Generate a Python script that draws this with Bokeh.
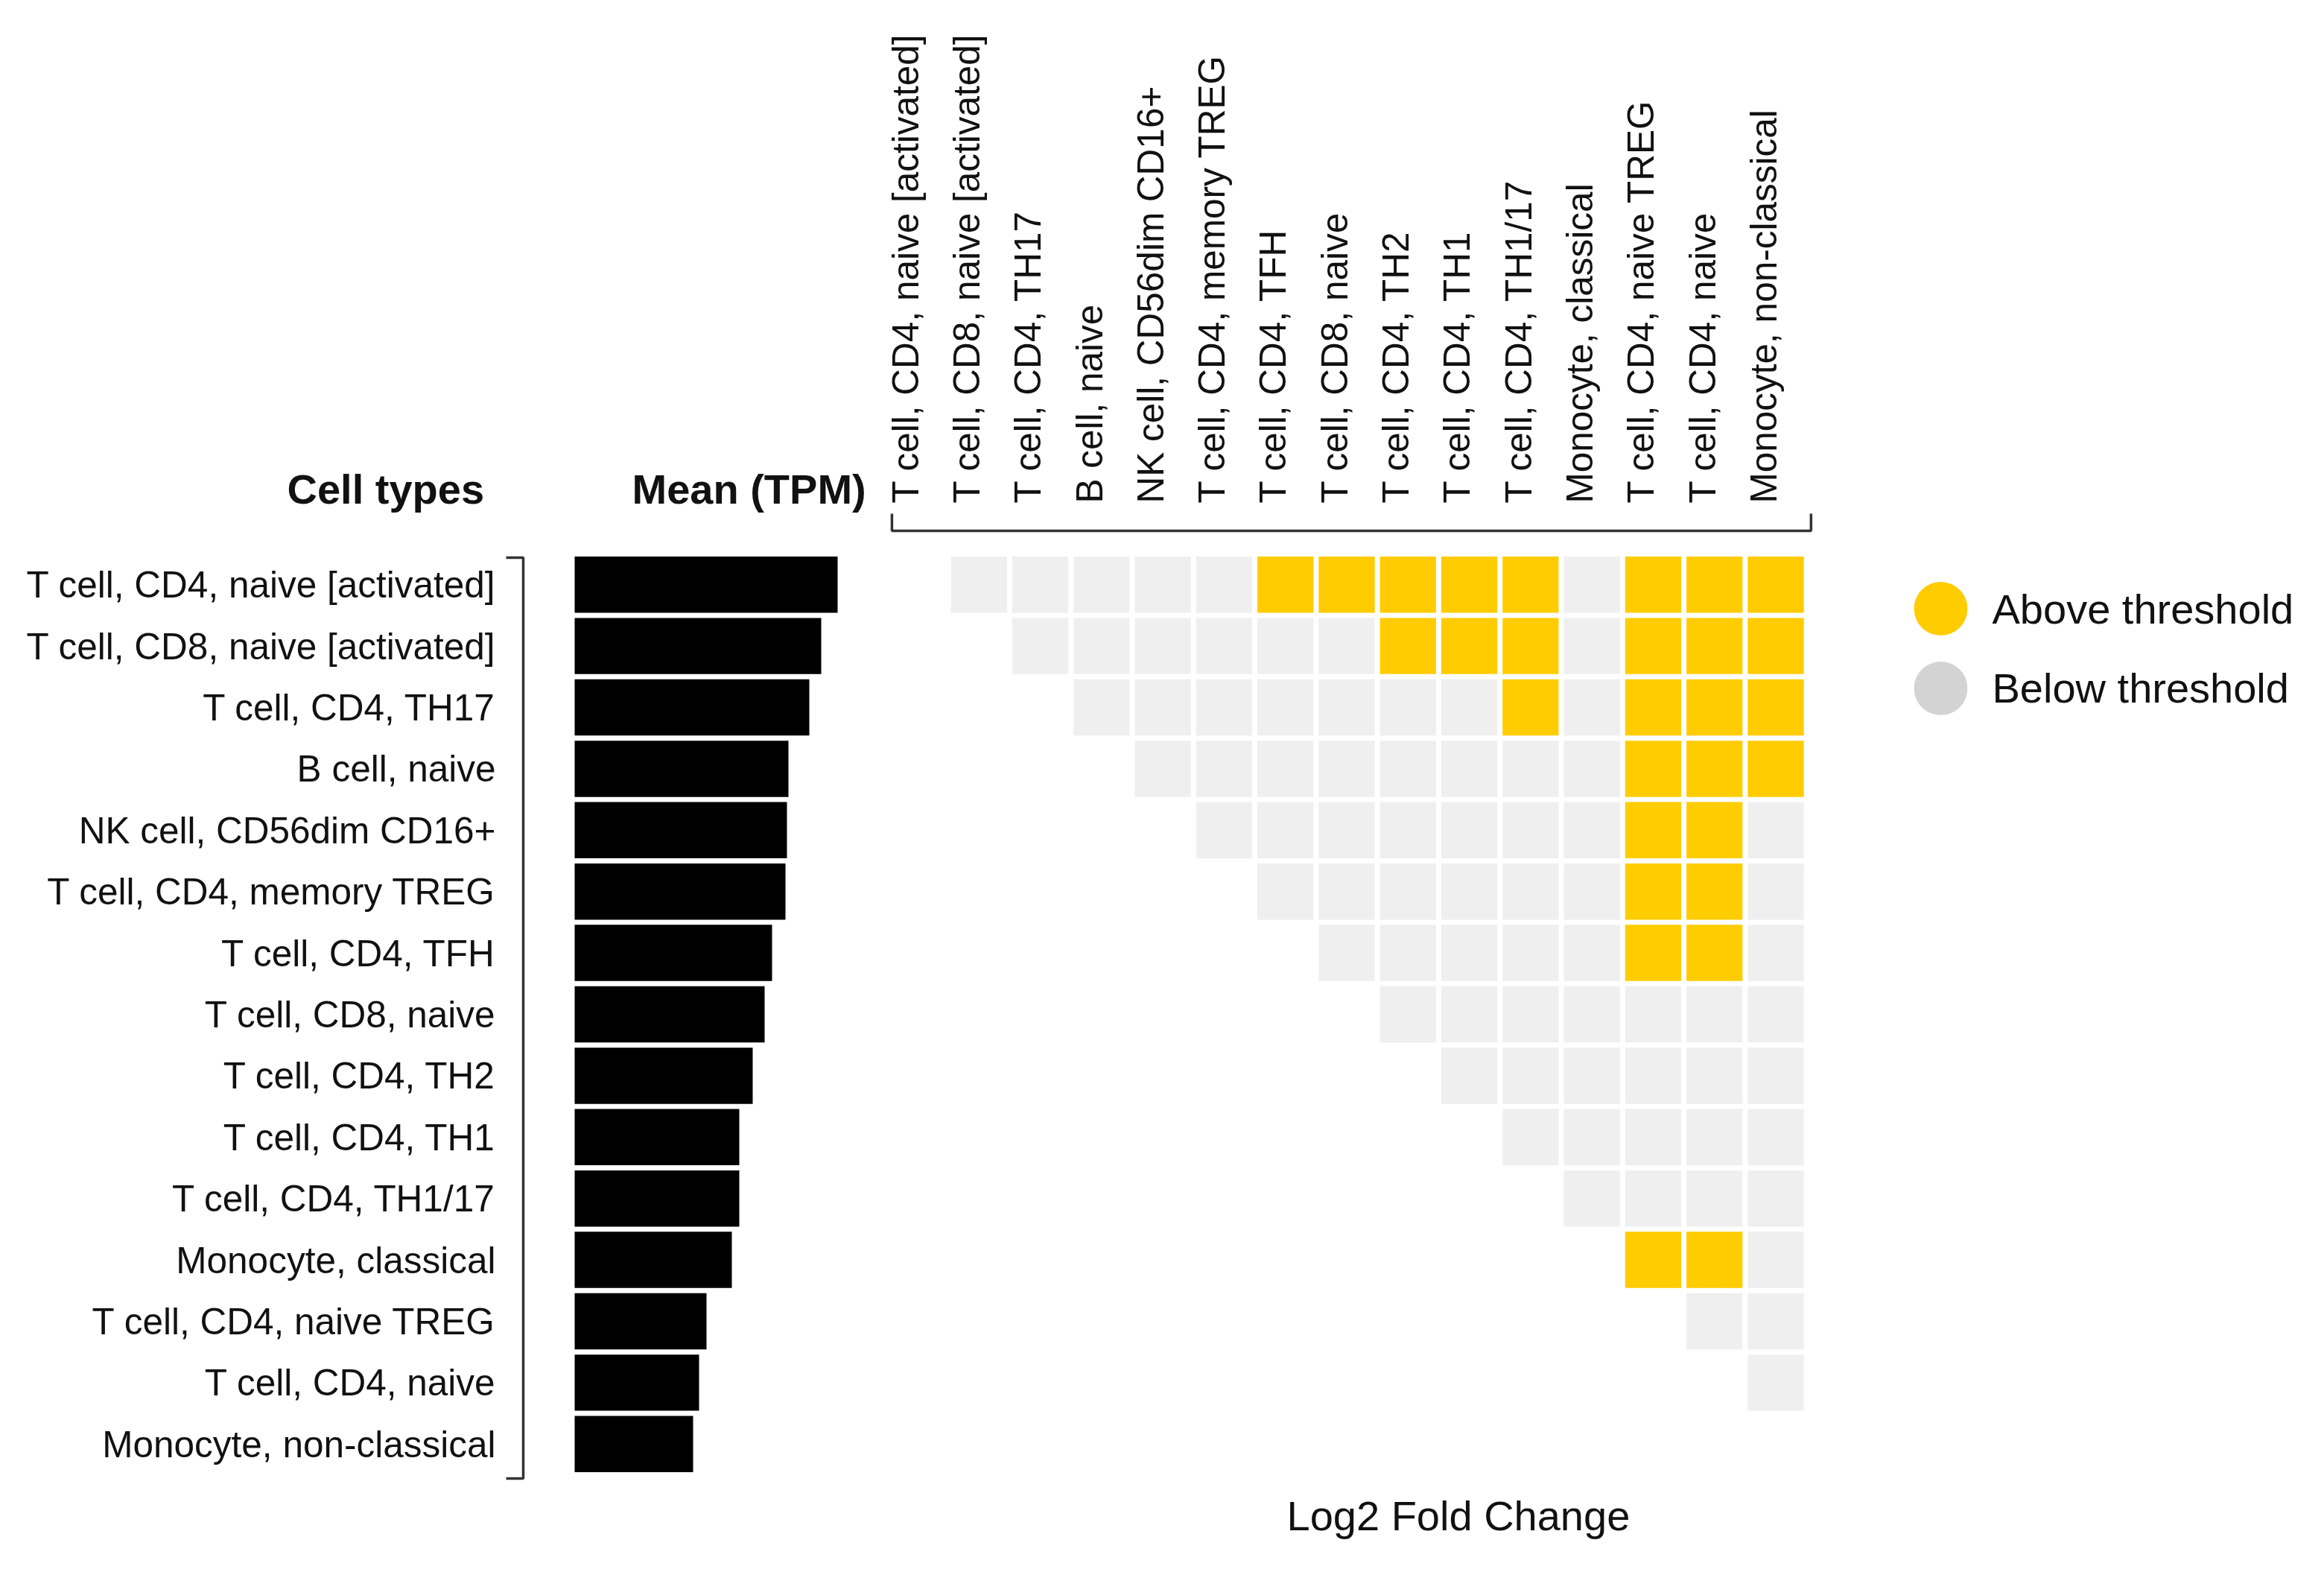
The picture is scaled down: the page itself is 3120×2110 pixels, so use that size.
import math
from bokeh.plotting import figure
from bokeh.models import ColumnDataSource, FactorRange, Range1d, Title, LinearAxis, FixedTicker
from bokeh.layouts import row
from bokeh.embed import file_html
from bokeh.resources import INLINE

# ---------------- data ----------------
cell_types = [
    "T cell, CD4, naive [activated]",
    "T cell, CD8, naive [activated]",
    "T cell, CD4, TH17",
    "B cell, naive",
    "NK cell, CD56dim CD16+",
    "T cell, CD4, memory TREG",
    "T cell, CD4, TFH",
    "T cell, CD8, naive",
    "T cell, CD4, TH2",
    "T cell, CD4, TH1",
    "T cell, CD4, TH1/17",
    "Monocyte, classical",
    "T cell, CD4, naive TREG",
    "T cell, CD4, naive",
    "Monocyte, non-classical",
]
mean_tpm = [176.5, 165.5, 157.5, 143.5, 142.5, 141.5, 132.5, 127.5, 119.5, 110.5, 110.5, 105.5, 88.5, 83.5, 79.5]

# for row i: 1 = above threshold, 0 = below, for columns i+1 .. 14
above_threshold = [
    [0, 0, 0, 0, 0, 1, 1, 1, 1, 1, 0, 1, 1, 1],
    [0, 0, 0, 0, 0, 0, 1, 1, 1, 0, 1, 1, 1],
    [0, 0, 0, 0, 0, 0, 0, 1, 0, 1, 1, 1],
    [0, 0, 0, 0, 0, 0, 0, 0, 1, 1, 1],
    [0, 0, 0, 0, 0, 0, 0, 1, 1, 0],
    [0, 0, 0, 0, 0, 0, 1, 1, 0],
    [0, 0, 0, 0, 0, 1, 1, 0],
    [0, 0, 0, 0, 0, 0, 0],
    [0, 0, 0, 0, 0, 0],
    [0, 0, 0, 0, 0],
    [0, 0, 0, 0],
    [1, 1, 0],
    [0, 0],
    [0],
    [],
]
legend_labels = ["Above threshold", "Below threshold"]

# ---------------- style ----------------
YELLOW = "#FFCC00"
CELL_GRAY = "#EFEFEF"
LEGEND_GRAY = "#D3D3D3"
BRACKET = "#333333"
TEXT = "#111111"
FONT = "Liberation Sans"
LABEL_SIZE = "49.5px"
TITLE_SIZE = "56px"
BIG_SIZE = "56px"
LEGEND_SIZE = "56px"

N = len(cell_types)
ROW = 82.41         # px per row
COL = 82.3          # px per column
PAD = 0.68          # row range padding on each side
XPAD = 0.15         # column range padding on each side
FRAME_H = round((N + 2 * PAD) * ROW)
TOP = 687
BOTTOM = 60

y_range = FactorRange(factors=cell_types[::-1], range_padding=PAD,
                      range_padding_units="absolute")


def clean(p):
    p.grid.visible = False
    p.outline_line_color = None
    p.background_fill_color = "white"
    p.border_fill_color = "white"


def hide_axis(a, standoff, size):
    a.axis_line_color = None
    a.major_tick_line_color = None
    a.minor_tick_line_color = None
    a.major_tick_out = 0
    a.major_tick_in = 0
    a.minor_tick_out = 0
    a.minor_tick_in = 0
    a.major_label_standoff = standoff
    a.major_label_text_font = FONT
    a.major_label_text_font_size = size
    a.major_label_text_color = TEXT


# ---------------- row labels + bracket ----------------
pa = figure(y_range=y_range, x_range=Range1d(0, 55),
            frame_width=55, frame_height=FRAME_H,
            min_border_left=665, min_border_right=0, min_border_top=TOP, min_border_bottom=BOTTOM,
            x_axis_location=None, output_backend="svg", toolbar_location=None)
clean(pa)
hide_axis(pa.yaxis[0], 0, LABEL_SIZE)
pa.line(x=[14, 37, 37, 14],
        y=[(cell_types[0], 0.44), (cell_types[0], 0.44), (cell_types[-1], -0.56), (cell_types[-1], -0.56)],
        line_color=BRACKET, line_width=3.5)
pa.title = Title(text="Cell types", align="left", offset=-280, vertical_align="bottom", standoff=0,
                 text_font=FONT, text_font_size=TITLE_SIZE, text_font_style="bold", text_color=TEXT)

# ---------------- bars ----------------
pb = figure(y_range=y_range, x_range=Range1d(-5.5, 197.5),
            frame_width=406, frame_height=FRAME_H,
            min_border_left=40, min_border_right=0, min_border_top=TOP, min_border_bottom=BOTTOM,
            x_axis_location=None, y_axis_location=None,
            output_backend="svg", toolbar_location=None)
clean(pb)
src_b = ColumnDataSource(dict(cell=cell_types, tpm=mean_tpm))
pb.hbar(y="cell", left=0, right="tpm", height=0.916, source=src_b,
        fill_color="black", line_color=None)
pb.title = Title(text="Mean (TPM)", align="left", offset=88, vertical_align="bottom", standoff=0,
                 text_font=FONT, text_font_size=TITLE_SIZE, text_font_style="bold", text_color=TEXT)

# ---------------- heatmap ----------------
hx, hy, hc = [], [], []
for i, flags in enumerate(above_threshold):
    for k, f in enumerate(flags):
        hx.append(cell_types[i + 1 + k])
        hy.append(cell_types[i])
        hc.append(YELLOW if f else CELL_GRAY)
src_h = ColumnDataSource(dict(col=hx, row=hy, color=hc))

ph = figure(x_range=FactorRange(factors=cell_types, range_padding=XPAD, range_padding_units="absolute"),
            y_range=y_range, frame_width=round((N + 2 * XPAD) * COL), frame_height=FRAME_H,
            min_border_left=12, min_border_right=0, min_border_top=TOP, min_border_bottom=BOTTOM,
            x_axis_location=None, y_axis_location=None, title=None,
            output_backend="svg", toolbar_location=None)
clean(ph)
ph.rect(x="col", y="row", width=0.915, height=0.916, source=src_h,
        fill_color="color", line_color=None)

# column labels: ticks in the factor range's synthetic coordinates, text baseline at the column centre
label_ticks = [j + 0.296875 for j in range(N)]
lab_axis = LinearAxis(ticker=FixedTicker(ticks=label_ticks, minor_ticks=[]),
                      major_label_overrides=dict(zip(label_ticks, cell_types)))
hide_axis(lab_axis, 12, LABEL_SIZE)
lab_axis.major_label_orientation = math.pi / 2
ph.add_layout(lab_axis, "above")

# bracket under the column labels
ph.line(x=[(cell_types[0], -0.42), (cell_types[0], -0.42), (cell_types[-1], 0.575), (cell_types[-1], 0.575)],
        y=[(cell_types[0], 1.156), (cell_types[0], 0.877), (cell_types[0], 0.877), (cell_types[0], 1.156)],
        line_color=BRACKET, line_width=3.5)

ph.add_layout(Title(text="Log2 Fold Change", align="left", offset=549, vertical_align="top",
                    standoff=-66, text_font=FONT, text_font_size=BIG_SIZE, text_font_style="normal",
                    text_color=TEXT),
              "below")

# ---------------- legend ----------------
pl = figure(x_range=FactorRange(factors=["key"]),
            y_range=FactorRange(factors=legend_labels[::-1], range_padding=0.7125,
                                range_padding_units="absolute"),
            frame_width=72, frame_height=366,
            min_border_left=132, min_border_right=0, min_border_top=TOP, min_border_bottom=0,
            x_axis_location=None, y_axis_location="right", title=None,
            output_backend="svg", toolbar_location=None)
clean(pl)
pl.scatter(x=["key", "key"], y=legend_labels, size=72, color=[YELLOW, LEGEND_GRAY], line_color=None)
hide_axis(pl.yaxis[0], 33, LEGEND_SIZE)

layout = row(pa, pb, ph, pl)
open("out.html", "w").write(file_html(layout, INLINE))
